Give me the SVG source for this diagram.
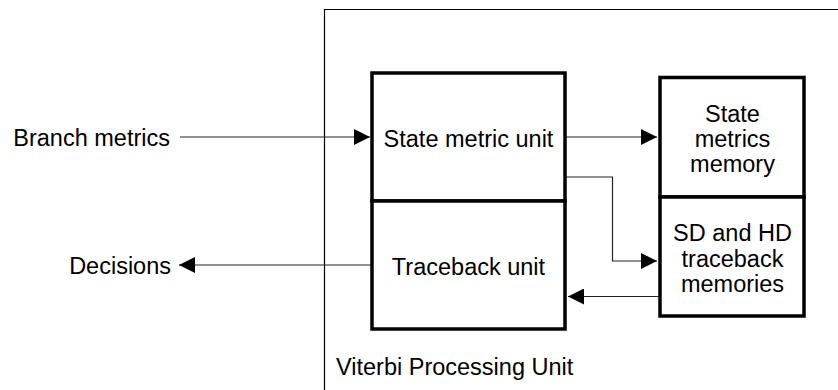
<svg xmlns="http://www.w3.org/2000/svg" width="838" height="390" viewBox="0 0 838 390">
<style>
text{font-family:"Liberation Sans",Arial,sans-serif;font-size:23.5px;fill:#000}
.c{text-anchor:middle}
.box{fill:#fff;stroke:#000;stroke-width:3.5}
.ln{fill:none;stroke:#222;stroke-width:1.2}
</style>
<defs>
<marker id="ah" viewBox="0 0 16 16" refX="16" refY="8" markerWidth="16" markerHeight="16" markerUnits="userSpaceOnUse" orient="auto">
<path d="M0,0 L16,8 L0,16 Z" fill="#000"/>
</marker>
</defs>
<rect width="838" height="390" fill="#fff"/>
<g id="frame">
<path d="M324.5,390 V9.5 H838" fill="none" stroke="#000" stroke-width="1.2"/>
<text x="336" y="375">Viterbi Processing Unit</text>
</g>
<g id="connectors">
<path class="ln" d="M180,137 H370" marker-end="url(#ah)"/>
<path class="ln" d="M372,265 H179" marker-end="url(#ah)"/>
<path class="ln" d="M565,137 H657" marker-end="url(#ah)"/>
<path class="ln" d="M565,177 H612.5 V261 H657" marker-end="url(#ah)"/>
<path class="ln" d="M660,296.5 H568" marker-end="url(#ah)"/>
</g>
<g id="branch-metrics"><text x="170" y="145.5" text-anchor="end">Branch metrics</text></g>
<g id="decisions"><text x="171" y="273.5" text-anchor="end">Decisions</text></g>
<g id="state-metric-unit">
<rect class="box" x="372" y="73" width="193" height="128"/>
<text class="c" x="468.5" y="146.5">State metric unit</text>
</g>
<g id="traceback-unit">
<rect class="box" x="372" y="201" width="193" height="128"/>
<text class="c" x="468.5" y="275">Traceback unit</text>
</g>
<g id="state-metrics-memory">
<rect class="box" x="660" y="77.5" width="144" height="119.5"/>
<text class="c" x="732.5" y="121.5">State</text>
<text class="c" x="732.5" y="146.5">metrics</text>
<text class="c" x="732.5" y="171.5">memory</text>
</g>
<g id="traceback-memories">
<rect class="box" x="660" y="197" width="144" height="119"/>
<text class="c" x="732.5" y="240.5">SD and HD</text>
<text class="c" x="732.5" y="266.5">traceback</text>
<text class="c" x="732.5" y="292">memories</text>
</g>
</svg>
